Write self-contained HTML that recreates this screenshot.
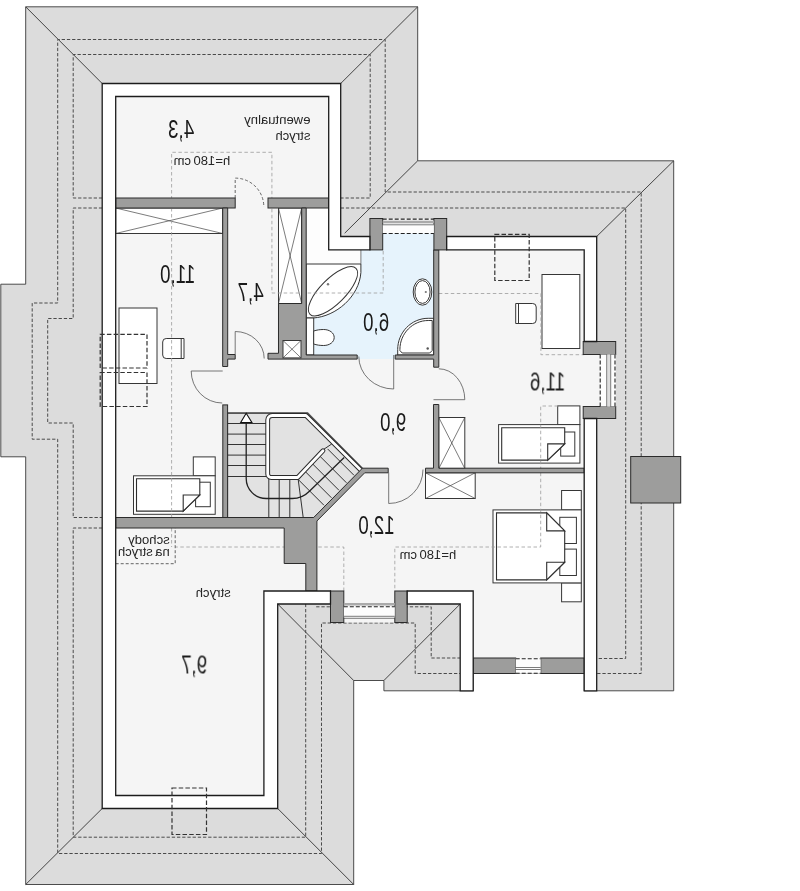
<!DOCTYPE html>
<html><head><meta charset="utf-8"><title>Rzut poddasza</title>
<style>
html,body{margin:0;padding:0;background:#fff}
svg{display:block}
.roof{fill:#dcdcdc;stroke:#3a3a3a;stroke-width:.9}
.hip{fill:none;stroke:#333;stroke-width:.9}
.rd{fill:none;stroke:#4a4a4a;stroke-width:1;stroke-dasharray:3.300 1.900}
.ld{fill:none;stroke:#9c9c9c;stroke-width:.8;stroke-dasharray:3.500 2.500}
.md{fill:none;stroke:#555;stroke-width:.9;stroke-dasharray:3 2}
.floor{fill:#f5f5f5;stroke:none}
.white{fill:#fdfdfd;stroke:none}
.bath{fill:#e6f3fc;stroke:none}
.fur{fill:#fff;stroke:#363636;stroke-width:1}
.fur2{fill:#fff;stroke:#2e2e2e;stroke-width:1.100;stroke-linejoin:miter}
.thin{fill:none;stroke:#444;stroke-width:.7}
.thin2{fill:none;stroke:#333;stroke-width:1}
.stair{fill:#e2e2e2;stroke:#444;stroke-width:.8}
.sttop{fill:none;stroke:#555;stroke-width:1.600}
.walk{fill:none;stroke:#222;stroke-width:1.300}
.arrow{fill:#fff;stroke:#111;stroke-width:1.100}
.gw{fill:#9d9d9c;stroke:#2b2b2b;stroke-width:1}
.ow{fill:#fff;stroke:#1c1c1c;stroke-width:1.300}
.wgrey{fill:none;stroke:#aaa;stroke-width:2.500}
.wgrey2{fill:none;stroke:#ddd;stroke-width:3}
.wd{fill:none;stroke:#222;stroke-width:1.100;stroke-dasharray:4 2}
.sky{fill:none;stroke:#333;stroke-width:1.200;stroke-dasharray:4.500 2.200}
.door{fill:none;stroke:#555;stroke-width:.8}
.dd{fill:none;stroke:#444;stroke-width:.8;stroke-dasharray:3 2}
text{font-family:"Liberation Sans",sans-serif;fill:#1a1a1a}
.big{font-size:25px}
.sm{font-size:13.100px;word-spacing:-1.300px;fill:#262626}
</style></head>
<body>
<svg width="800" height="891" viewBox="0 0 800 891">
<g transform="translate(0.2 0.5)">
<polygon class="roof" points="25.5,6.3 417.5,6.3 417.5,160.3 673.5,160.3 673.5,690.3 584,690.3 584,673 473,673 473,690.3 383.7,690.3 383.7,680 353.5,680 353.5,884 25.5,884 25.5,456.3 0.6,456.3 0.6,283.7 25.5,283.7" />
<polyline class="hip" points="25.5,6.3 102,83" />
<polyline class="hip" points="417.5,6.3 340.5,83" />
<polyline class="hip" points="417.5,160.3 344.5,232.7" />
<polyline class="hip" points="673.5,160.3 596.5,236" />
<polyline class="hip" points="25.5,884 102,808" />
<polyline class="hip" points="353.5,884 277.5,808" />
<polyline class="hip" points="277.5,603.5 353.5,680" />
<polyline class="hip" points="460,603.5 383.7,680" />
<polyline class="rd" points="597,673 641,673 641,502.5" />
<polyline class="rd" points="641,456 641,191.5 385,191.5 385,39 57.5,39 57.5,302.5 32,302.5 32,438.7 57.5,438.7 57.5,853 321.3,853 321.3,622.5 415,622.5 415,673 460,673" />
<polyline class="rd" points="102,197.5 73,197.5 73,54 370,54 370,197.5 340.5,197.5" />
<polyline class="rd" points="340.5,207.5 625.5,207.5 625.5,658 597,658" />
<polyline class="rd" points="102,207.5 73,207.5 73,318 47.5,318 47.5,422.5 73,422.5 73,517 102,517" />
<polyline class="rd" points="102,527.5 73,527.5 73,836.7 305.5,836.7 305.5,603.5" />
<polyline class="rd" points="316,606.3 431,606.3 431,657.5 460,657.5" />
<polygon class="floor" points="102,83 340.5,83 340.5,236 369.7,236 369.7,218 446.5,218 446.5,236 596.5,236 596.5,341 615.5,341 615.5,418 596.5,418 596.5,690.3 584,690.3 584,673 473,673 473,690.3 460,690.3 460,603.5 407,603.5 407,622 330.3,622 330.3,603.5 277.5,603.5 277.5,808 102,808" />
<polygon class="white" points="306,207.5 328.5,207.5 328.5,249.4 360.7,249.4 360.7,263.5 306,263.5" />
<polygon class="bath" points="382.5,224 433.7,224 433.7,354.5 395,354.5 395,358.6 357,358.6 357,354.5 306,354.5 306,263.5 360.7,263.5 360.7,249.4 382.5,249.4" />
<rect class="fur" x="115.5" y="207.5" width="107" height="25.5" />
<path class="thin" d="M115.5 207.5L222.5 233M222.5 207.5L115.5 233"/>
<rect class="fur" x="278.3" y="207.5" width="23.2" height="95.5" />
<path class="thin" d="M278.3 207.5L301.5 303M301.5 207.5L278.3 303"/>
<rect class="fur" x="438.6" y="417" width="26" height="51" />
<path class="thin" d="M438.6 417L464.6 468M464.6 417L438.6 468"/>
<rect class="fur" x="425.3" y="472.3" width="49.7" height="25.7" />
<path class="thin" d="M425.3 472.3L475 498M475 472.3L425.3 498"/>
<rect class="fur" x="118.8" y="307.5" width="38" height="75.5" />
<path class="fur" d="M183.8 338H166a3.5 3.5 0 0 0-3.5 3.5v13a3.5 3.5 0 0 0 3.5 3.5h17.8zM181 338v20"/>
<rect class="fur" x="541.8" y="274" width="37.8" height="74" />
<path class="fur" d="M515.5 303h17a3.5 3.5 0 0 1 3.5 3.5v13a3.5 3.5 0 0 1-3.5 3.5h-17zM518.3 303v20.4"/>
<rect class="fur" x="193.1" y="456.4" width="21.9" height="18.9" />
<rect class="fur" x="133.3" y="475.3" width="81.7" height="38.5" />
<rect class="fur" x="195.4" y="481.7" width="14.7" height="24.5" />
<polygon class="fur2" points="136.3,478.2 199.6,478.2 199.6,494.5 183,510.6 136.3,510.6" />
<polygon class="fur2" points="183,510.6 183,494.5 199.6,494.5" />
<rect class="fur" x="557.5" y="405.4" width="22.2" height="18.7" />
<rect class="fur" x="498.4" y="424.1" width="81.3" height="38.5" />
<rect class="fur" x="560.5" y="431.5" width="14.1" height="24.1" />
<polygon class="fur2" points="501.5,427.3 564.5,427.3 564.5,443.4 547.5,459.6 501.5,459.6" />
<polygon class="fur2" points="547.5,459.6 547.5,443.4 564.5,443.4" />
<rect class="fur" x="561.4" y="490" width="19.7" height="19.4" />
<rect class="fur" x="561.4" y="582.4" width="19.7" height="18.9" />
<rect class="fur" x="492.8" y="509.4" width="88.3" height="73" />
<rect class="fur" x="559.6" y="516.8" width="16.6" height="26.2" />
<rect class="fur" x="559.6" y="548.6" width="16.6" height="26.4" />
<polygon class="fur2" points="496.3,512.4 546.5,512.4 564.5,530.4 564.5,561.7 546.5,579.4 496.3,579.4" />
<polygon class="fur2" points="546.5,512.4 546.5,530.4 564.5,530.4" />
<polygon class="fur2" points="546.5,579.4 546.5,561.7 564.5,561.7" />
<path class="fur" d="M306 263.5H360.7V272C359 296 336 316 313 317.5H306z"/>
<ellipse class="fur" cx="332.8" cy="290.8" rx="32.5" ry="12.5" transform="rotate(-45 332.8 290.8)"/>
<polyline class="thin" points="360.7,249.4 360.7,263.5" />
<circle cx="327.8" cy="283.7" r="1.2" fill="#777"/>
<rect class="fur" x="306" y="317.5" width="7.5" height="37" />
<path class="fur" d="M313.5 330.500c3-1 6-1.500 10-1.500c6 0 10.500 3.500 10.500 8s-4.500 8-10.500 8c-4 0-7-.5-10-1.500z"/>
<ellipse class="fur" cx="422.3" cy="291.5" rx="9.3" ry="13.2"/><ellipse class="fur" cx="422.3" cy="291.5" rx="7.6" ry="11.4"/><circle cx="425.6" cy="291.5" r="1.1" fill="#777"/>
<path class="fur" d="M433.7 317.800H428C411 317.800 397.500 332 397.500 349V354.500H433.700z"/>
<path class="fur" d="M432 320H428C412.500 320 399.700 333 399.700 349V350L402 352.500H429.500L432 350z"/>
<circle cx="427.5" cy="348" r="1.2" fill="#555"/>
<polyline class="ld" points="171.4,517 171.4,151.8 271.7,151.8 271.7,292.5 383,292.5 383,249.4" />
<polyline class="ld" points="438.6,293 540.7,293 540.7,354.2 584,354.2" />
<polyline class="ld" points="557.8,405.5 540.5,405.5 540.5,546.5 394.6,546.5 394.6,590.5" />
<polyline class="ld" points="343.6,590.5 343.6,546.5 175,546.5" />
<polyline class="ld" points="171.4,527.5 171.4,546.5" />
<polyline class="md" points="115.5,563.2 175,563.2 175,527.5" />
<polygon class="stair" points="227.4,412.6 307.4,412.6 362.6,468.3 314,517 227.4,517" />
<polyline class="thin2" points="227.4,423 266.5,423" />
<polyline class="thin2" points="227.4,433.6 266.5,433.6" />
<polyline class="thin2" points="227.4,444 266.5,444" />
<polyline class="thin2" points="227.4,454.6 266.5,454.6" />
<polyline class="thin2" points="227.4,465 266.5,465" />
<polyline class="thin2" points="227.4,476 266.5,476" />
<polyline class="thin2" points="268.6,477 268.6,517" />
<polyline class="thin2" points="279,477 279,517" />
<polyline class="thin2" points="289.6,477 289.6,517" />
<polyline class="thin2" points="298,479 303,517" />
<polyline class="thin2" points="297.4,478.4 323.8,504.8" />
<polyline class="thin2" points="304.9,470.9 331.3,497.3" />
<polyline class="thin2" points="312.4,463.4 338.8,489.8" />
<polyline class="thin2" points="319.9,455.9 346.3,482.3" />
<polyline class="thin2" points="327.4,448.4 353.8,474.8" />
<polyline class="thin2" points="334.9,440.9 361.3,467.3" />
<polyline class="thin2" points="322.5,449.5 331.5,443.5" />
<polyline class="sttop" points="227.4,412.6 307.4,412.6 362.6,468.3" />
<path d="M322.8 450.200L297.500 477H271a3.500 3.500 0 0 1-3.500-3.500V419.500a4.500 4.500 0 0 1 4.500-4.500H305.800L360.500 469.500" fill="none" stroke="#2b2b2b" stroke-width="4.8" stroke-linecap="round" stroke-linejoin="round"/>
<path d="M322.8 450.200L297.500 477H271a3.500 3.500 0 0 1-3.500-3.500V419.500a4.500 4.500 0 0 1 4.500-4.500H305.800L360.500 469.500" fill="none" stroke="#fff" stroke-width="2.800" stroke-linecap="round" stroke-linejoin="round"/>
<path class="walk" d="M246 422V478a20 20 0 0 0 20 20H292c8 0 13-3 17.200-7.300L344 457"/>
<polygon class="arrow" points="246,412.8 240.5,422 251.7,422" />
<rect class="gw" x="115.5" y="197.5" width="119.5" height="10" />
<rect class="gw" x="267.8" y="197.5" width="60.7" height="10" />
<polygon class="gw" points="222.5,207.5 227.5,207.5 227.5,354 235,354 235,358.6 227.5,358.6 227.5,366 222.5,366" />
<polygon class="gw" points="301.5,207.5 306,207.5 306,354.5 357,354.5 357,358.6 267.8,358.6 267.8,352.8 278.3,352.8 278.3,303 301.5,303" />
<rect class="fur" x="282.8" y="340" width="18" height="17.4" />
<path class="thin" d="M282.8 340L300.8 357.4M300.8 340L282.8 357.4"/>
<polygon class="gw" points="395,354.5 433.5,354.5 433.5,249.4 438.6,249.4 438.6,366.7 433.5,366.7 433.5,358.6 395,358.6" />
<polygon class="gw" points="433.3,404 438.6,404 438.6,467.7 584,467.7 584,472.3 425.3,472.3 425.3,467.7 433.3,467.7" />
<rect class="gw" x="222.6" y="404.4" width="4.8" height="112.6" />
<polygon class="gw" points="115.5,517 313.5,517 362.2,467.7 388,467.7 388,472.3 364.5,472.3 316.7,520.5 316.7,590.5 305.6,590.5 305.6,563 284,563 284,527.5 115.5,527.5" />
<rect class="gw" x="473" y="657.5" width="42.5" height="15.5" />
<rect class="gw" x="540.5" y="657.5" width="43.5" height="15.5" />
<rect class="gw" x="369.7" y="218" width="12.8" height="31.4" />
<rect class="gw" x="433.7" y="218" width="12.8" height="31.4" />
<rect class="gw" x="583" y="341" width="32.5" height="13" />
<rect class="gw" x="583" y="406" width="32.5" height="12" />
<rect class="gw" x="330.3" y="590.5" width="13.3" height="31.5" />
<rect class="gw" x="394.6" y="590.5" width="12.4" height="31.5" />
<rect class="gw" x="630.5" y="456" width="50" height="46.5" />
<polygon class="ow" points="102,83 340.5,83 340.5,236 369.7,236 369.7,249.4 328.5,249.4 328.5,96 115.5,96 115.5,795 263.7,795 263.7,590.5 330.3,590.5 330.3,603.5 277.5,603.5 277.5,808 102,808" />
<polygon class="ow" points="446.5,236 596.5,236 596.5,341 584,341 584,249.4 446.5,249.4" />
<polygon class="ow" points="584,418 596.5,418 596.5,690.3 584,690.3" />
<polygon class="ow" points="407,590.5 473,590.5 473,690.3 460,690.3 460,603.5 407,603.5" />
<rect class="white" x="382.5" y="224" width="51.2" height="9" />
<polyline class="wgrey" points="382.5,221.5 433.7,221.5" />
<polyline class="thin" points="382.5,224.3 433.7,224.3" />
<polyline class="wd" points="382.5,218.6 433.7,218.6" />
<polyline class="wd" points="382.5,233 433.7,233" />
<rect class="white" x="600" y="354" width="15.5" height="52" />
<polyline class="wgrey2" points="608.5,354 608.5,406" />
<polyline class="thin" points="606.5,354 606.5,406" />
<polyline class="thin" points="610.5,354 610.5,406" />
<polyline class="wd" points="600,354 600,406" />
<polyline class="wd" points="614.8,354 614.8,406" />
<rect class="white" x="515.5" y="657.5" width="25" height="15.5" />
<polyline class="thin" points="515.5,667 540.5,667" />
<polyline class="thin" points="515.5,669 540.5,669" />
<polyline class="wd" points="515.5,658.2 540.5,658.2" />
<polyline class="wd" points="515.5,672.8 540.5,672.8" />
<rect class="white" x="343.6" y="606" width="51" height="11" />
<polyline class="wgrey" points="343.6,603.7 394.6,603.7" />
<polyline class="thin" points="343.6,615.8 394.6,615.8" />
<polyline class="thin" points="343.6,617.8 394.6,617.8" />
<polyline class="wd" points="343.6,606.3 394.6,606.3" />
<rect class="sky" x="494.6" y="233.8" width="34.4" height="46.2" />
<rect class="sky" x="100" y="333.8" width="46.8" height="33.7" />
<rect class="sky" x="100" y="372" width="46.8" height="34" />
<rect class="sky" x="171.8" y="787.5" width="34.5" height="46.5" />
<path class="dd" d="M235 197.500V177.600A28.600 28.600 0 0 1 263.600 206.500"/>
<path class="door" d="M235 354V331A29 27 0 0 1 264 358"/>
<path class="door" d="M222.500 370.500H191A31 32 0 0 0 222 402.500"/>
<path class="door" d="M393.500 354.500V388.500A35 32.500 0 0 1 358.600 356"/>
<path class="door" d="M433.300 399.200H464.600A26 31 0 0 0 438.600 368.300"/>
<path class="door" d="M388.500 472V503A34.300 34 0 0 0 422.800 469"/>
<g opacity="0.999">
<text class="big" transform="translate(194 137) scale(-0.75 1)" text-anchor="start" >4,3</text>
<text class="big" transform="translate(195 282) scale(-0.75 1)" text-anchor="start" >11,0</text>
<text class="big" transform="translate(263.5 300) scale(-0.75 1)" text-anchor="start" >4,7</text>
<text class="big" transform="translate(389 330) scale(-0.75 1)" text-anchor="start" >6,0</text>
<text class="big" transform="translate(406 430) scale(-0.75 1)" text-anchor="start" >9,0</text>
<text class="big" transform="translate(565 390) scale(-0.75 1)" text-anchor="start" >11,6</text>
<text class="big" transform="translate(394.5 533) scale(-0.75 1)" text-anchor="start" >12,0</text>
<text class="big" transform="translate(207 673) scale(-0.75 1)" text-anchor="start" >9,7</text>
<text class="sm" transform="translate(310.2 123.6) scale(-1 1)" text-anchor="start" >ewentualny</text>
<text class="sm" transform="translate(310.2 139.4) scale(-1 1)" text-anchor="start" >strych</text>
<text class="sm" transform="translate(230 164.6) scale(-1 1)" text-anchor="start" >h=180 cm</text>
<text class="sm" transform="translate(456 558.6) scale(-1 1)" text-anchor="start" >h=180 cm</text>
<text class="sm" transform="translate(169.5 543) scale(-1 1)" text-anchor="start" >schody</text>
<text class="sm" transform="translate(169.5 555.5) scale(-1 1)" text-anchor="start" >na strych</text>
<text class="sm" transform="translate(230.5 596.3) scale(-1 1)" text-anchor="start" >strych</text>
</g>
</g>
</svg>
</body></html>
